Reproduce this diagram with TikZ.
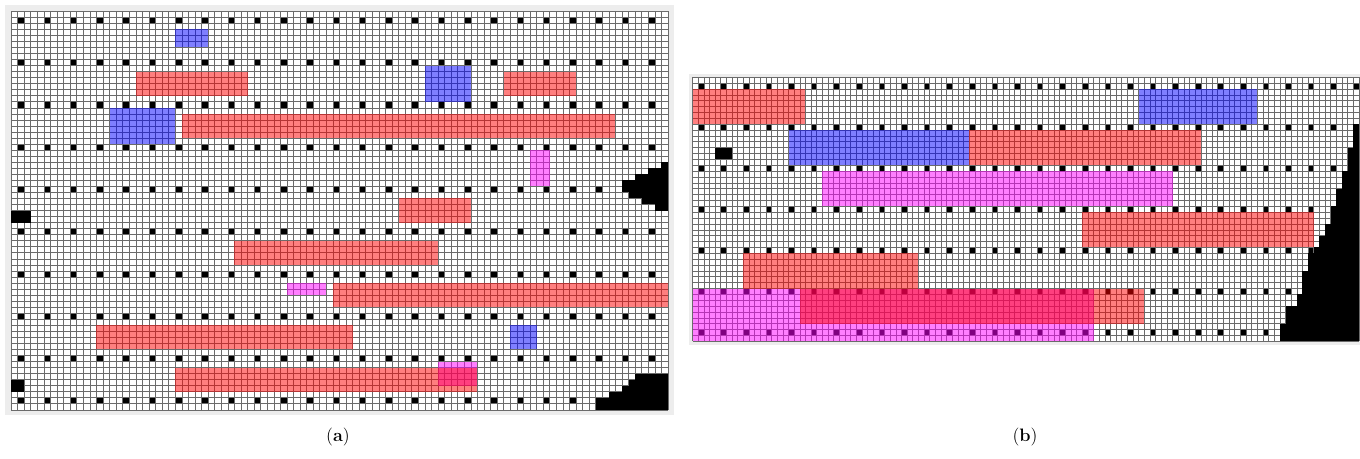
\documentclass[tikz,border=0pt]{standalone}
\begin{document}
\definecolor{cRed}{RGB}{255,0,0}
\definecolor{cBlue}{RGB}{0,0,255}
\definecolor{cMag}{RGB}{255,0,255}
\tikzset{
 gridline/.style={draw=black!58, line width=0.45pt},
 dotcell/.style={fill=black},
 redcell/.style={fill=cRed, fill opacity=0.5},
 bluecell/.style={fill=cBlue, fill opacity=0.5},
 magcell/.style={fill=cMag, fill opacity=0.5},
 blackcell/.style={fill=black},
 panelframe/.style={fill=black!7},
 lbl/.style={font=\fontsize{13.5}{16}\selectfont, inner sep=0pt}
}
\newcommand\rectA[5]{\fill[#1] ({11+(#2)*6.57},{11.2+(#3)*6.04}) rectangle ({11+(#4)*6.57},{11.2+(#5)*6.04});}
\newcommand\rectB[5]{\fill[#1] ({692.5+(#2)*5.648},{77.2+(#3)*5.87}) rectangle ({692.5+(#4)*5.648},{77.2+(#5)*5.87});}
\begin{tikzpicture}[x=0.75pt,y=-0.75pt]
\useasboundingbox (0,0) rectangle (1360,459);
% ---------- panel (a)
\fill[panelframe] (5,5) rectangle (674,415);
\fill[white] (11,11.2) rectangle (668,409.84);
\foreach \i in {1,5,...,97} \foreach \j in {1,8,...,64} {\rectA{dotcell}{\i}{\j}{\i+1}{\j+1}}
\foreach \i in {0,...,100} \draw[gridline] ({11+\i*6.57},11.2) -- ({11+\i*6.57},409.84);
\foreach \j in {0,...,66} \draw[gridline] (11,{11.2+\j*6.04}) -- (668,{11.2+\j*6.04});
\rectA{bluecell}{25}{3}{30}{6}
\rectA{redcell}{19}{10}{36}{14}
\rectA{bluecell}{63}{9}{70}{15}
\rectA{redcell}{75}{10}{86}{14}
\rectA{bluecell}{15}{16}{25}{22}
\rectA{redcell}{26}{17}{92}{21}
\rectA{magcell}{79}{23}{82}{29}
\rectA{redcell}{59}{31}{70}{35}
\rectA{redcell}{34}{38}{65}{42}
\rectA{magcell}{42}{45}{48}{47}
\rectA{redcell}{49}{45}{100}{49}
\rectA{redcell}{13}{52}{52}{56}
\rectA{bluecell}{76}{52}{80}{56}
\rectA{magcell}{65}{58}{71}{62}
\rectA{redcell}{25}{59}{71}{63}
\rectA{blackcell}{0}{33}{3}{35}
\rectA{blackcell}{0}{61}{2}{63}
\foreach \ra/\rb/\c in {25/26/99,26/27/97,27/28/95,28/30/93,30/31/94,31/32/96,32/33/98} {\rectA{blackcell}{\c}{\ra}{100}{\rb}}
\foreach \ra/\rb/\c in {60/61/95,61/62/94,62/63/93,63/64/91,64/66/89} {\rectA{blackcell}{\c}{\ra}{100}{\rb}}
% ---------- panel (b)
\fill[panelframe] (689,74) rectangle (1360,345);
\fill[white] (692.5,77.2) rectangle (1358.96,341.35);
\foreach \i in {1,5,...,117} \foreach \j in {1,8,...,43} {\rectB{dotcell}{\i}{\j}{\i+1}{\j+1}}
\foreach \i in {0,...,118} \draw[gridline] ({692.5+\i*5.648},77.2) -- ({692.5+\i*5.648},341.35);
\foreach \j in {0,...,45} \draw[gridline] (692.5,{77.2+\j*5.87}) -- (1358.96,{77.2+\j*5.87});
\rectB{redcell}{0}{2}{20}{8}
\rectB{bluecell}{79}{2}{100}{8}
\rectB{bluecell}{17}{9}{49}{15}
\rectB{redcell}{49}{9}{90}{15}
\rectB{magcell}{23}{16}{85}{22}
\rectB{redcell}{69}{23}{110}{29}
\rectB{redcell}{9}{30}{40}{36}
\rectB{magcell}{0}{36}{71}{45}
\rectB{redcell}{19}{36}{80}{42}
\rectB{blackcell}{4}{12}{7}{14}
\foreach \ra/\rb/\c in {8/12/117,12/16/116,16/19/115,19/22/114,22/25/113,25/27/112,27/29/111,29/30/110,30/33/109,33/37/108,37/39/107,39/42/105,42/45/104} {\rectB{blackcell}{\c}{\ra}{118}{\rb}}
% ---------- labels
\node[lbl] (la) at (338,437) {(\textbf{a})};
\node[lbl] (lb) at (1025,437) {(\textbf{b})};
\end{tikzpicture}
\end{document}
